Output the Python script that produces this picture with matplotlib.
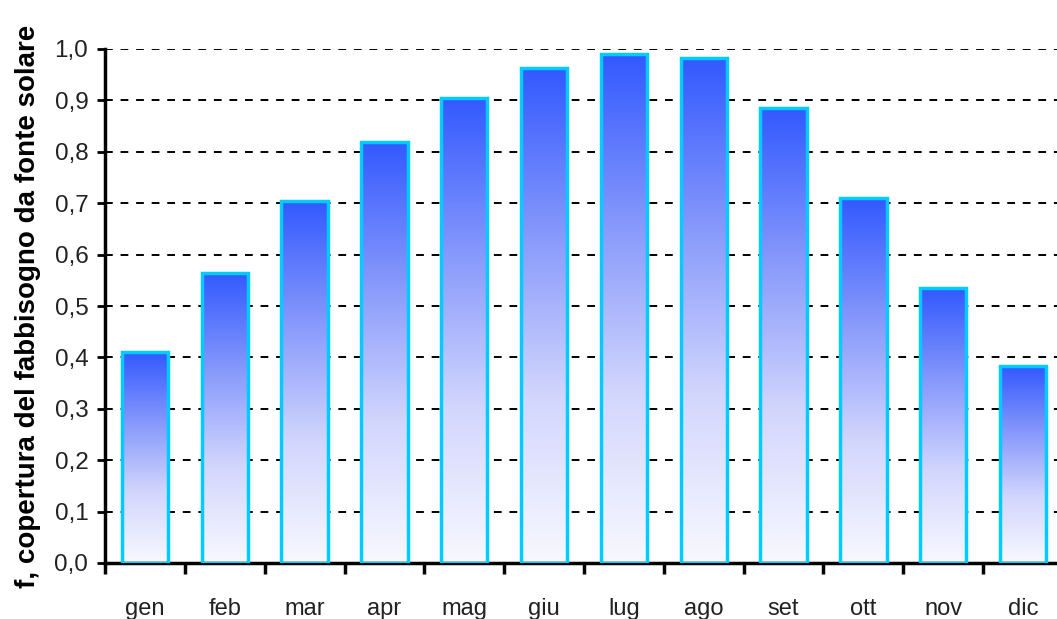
import numpy as np
import matplotlib.pyplot as plt
from matplotlib.colors import LinearSegmentedColormap

# monthly solar coverage fraction
mesi = ['gen', 'feb', 'mar', 'apr', 'mag', 'giu', 'lug', 'ago', 'set', 'ott', 'nov', 'dic']
copertura = [0.41, 0.565, 0.705, 0.82, 0.905, 0.963, 0.99, 0.982, 0.886, 0.71, 0.535, 0.383]
yticks = [0.0, 0.1, 0.2, 0.3, 0.4, 0.5, 0.6, 0.7, 0.8, 0.9, 1.0]
ytick_labels = ['0,0', '0,1', '0,2', '0,3', '0,4', '0,5', '0,6', '0,7', '0,8', '0,9', '1,0']

plt.rcParams['font.family'] = ['Liberation Sans', 'DejaVu Sans']

fig = plt.figure(figsize=(10.57, 6.19), dpi=100)
ax = fig.add_axes([105 / 1057, 56 / 619, 958 / 1057, 514 / 619])

x = np.arange(len(mesi))
bars = ax.bar(x, copertura, width=0.58, color='none', edgecolor='#00ccff',
              linewidth=2.5, zorder=3)

# vertical gradient inside each bar: blue at the top, white at the bottom
cmap = LinearSegmentedColormap.from_list('grad', ['#f8f8ff', '#d2d6fd', '#8698fb', '#3359ff'])
grad = np.linspace(0, 1, 256).reshape(-1, 1)
for b in bars:
    x0, y0 = b.get_x(), b.get_y()
    w, h = b.get_width(), b.get_height()
    im = ax.imshow(grad, cmap=cmap, aspect='auto', origin='lower',
                   extent=(x0, x0 + w, y0, y0 + h), zorder=2)
    im.set_clip_path(b)

ax.set_xlim(-0.5, len(mesi) - 0.5)
ax.set_ylim(0, 1.0)

ax.set_yticks(yticks)
ax.set_yticklabels(ytick_labels, fontsize=17.5, color='#222222')
ax.yaxis.grid(True, linestyle=(0, (4, 4)), color='black', linewidth=1.4, zorder=1)
ax.set_axisbelow(True)

ax.set_xticks(x)
ax.set_xticklabels(mesi, fontsize=17, color='#222222')
ax.set_xticks(np.arange(len(mesi) + 1) - 0.5, minor=True)
ax.tick_params(axis='x', which='major', length=0, pad=25)
ax.tick_params(axis='x', which='minor', length=8, width=2.5, direction='out')
ax.tick_params(axis='y', length=6, width=2, direction='out', pad=6)

for side in ['top', 'right']:
    ax.spines[side].set_visible(False)
ax.spines['left'].set_linewidth(2.5)
ax.spines['bottom'].set_linewidth(2.5)

ax.set_ylabel('f, copertura del fabbisogno da fonte solare', fontsize=20,
              fontweight='bold', labelpad=10)

fig.savefig('out.png', dpi=100)
